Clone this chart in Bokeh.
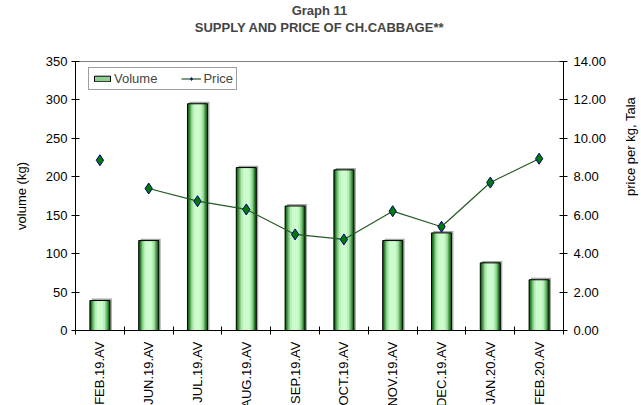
import numpy as np
from bokeh.plotting import figure
from bokeh.models import (LinearAxis, Range1d, FixedTicker, Legend, LegendItem,
                          Title, NumeralTickFormatter, ColumnDataSource)
from bokeh.transform import dodge
from bokeh.embed import file_html
from bokeh.resources import INLINE

months = ["FEB.19.AV", "JUN.19.AV", "JUL.19.AV", "AUG.19.AV", "SEP.19.AV",
          "OCT.19.AV", "NOV.19.AV", "DEC.19.AV", "JAN.20.AV", "FEB.20.AV"]
volume = [39, 117, 295, 212, 162, 209, 117, 127, 88, 66]
price = [8.86, 7.39, 6.73, 6.30, 5.00, 4.74, 6.21, 5.40, 7.70, 8.94]

FONT = "Liberation Sans"
FS = "13px"
xpos = np.arange(len(months)) + 0.5
src = ColumnDataSource(dict(x=xpos, v=volume, p=price, m=months))

p = figure(frame_width=488, frame_height=269, output_backend="svg",
           toolbar_location=None,
           x_range=Range1d(0, len(months)), y_range=Range1d(0, 350),
           min_border_left=75, min_border_right=55, min_border_top=0,
           min_border_bottom=20)
p.extra_y_ranges = {"price": Range1d(0, 14)}
p.xgrid.visible = False
p.ygrid.visible = False
p.outline_line_color = "#808080"
p.background_fill_color = "white"
p.border_fill_color = "white"

# bar shadow
p.vbar(x=dodge("x", 0.04), top=dodge("v", 2.5), width=0.41, bottom=0, source=src,
       fill_color="#a6a6a6", line_color=None)
# gradient bars
layers = [(0.41, "#0a570a"), (0.37, "#2a7f2a"), (0.32, "#5aa85a"),
          (0.27, "#90d090"), (0.21, "#b8eeb8"), (0.13, "#ccfccc")]
bar_rs = []
for w, c in layers:
    r = p.vbar(x="x", top="v", width=w, bottom=0, source=src, fill_color=c,
               line_color=None)
    bar_rs.append(r)
outline_r = p.vbar(x="x", top="v", width=0.41, bottom=0, source=src,
                   fill_color=None, line_color="black", line_width=1)

# price line (not joined to first point) and markers
line_src = ColumnDataSource(dict(x=xpos[1:], p=price[1:]))
ln = p.line(x="x", y="p", source=line_src, y_range_name="price",
            line_color="#235a23", line_width=1.2)
mk = p.scatter(x="x", y="p", source=src, y_range_name="price", marker="diamond",
               size=11, fill_color="#007a00", line_color="#000080", line_width=1)

# axes
ax = p.xaxis[0]
ax.ticker = FixedTicker(ticks=list(xpos), minor_ticks=list(range(len(months) + 1)))
ax.major_label_overrides = {float(x): m for x, m in zip(xpos, months)}
ax.major_label_orientation = np.pi / 2
ax.major_tick_in = 0
ax.major_tick_out = 0
ax.minor_tick_in = 4
ax.minor_tick_out = 4
ax.minor_tick_line_color = "black"
ax.axis_line_color = "black"
ax.major_label_standoff = 7

ay = p.yaxis[0]
ay.ticker = FixedTicker(ticks=list(range(0, 351, 50)))
ay.axis_label = "volume (kg)"
ay.major_tick_in = 4
ay.major_tick_out = 4
ay.minor_tick_line_color = None
ay.axis_line_color = "black"
ay.major_label_standoff = 4
ay.axis_label_standoff = 14

ar = LinearAxis(y_range_name="price", axis_label="price per kg, Tala",
                ticker=FixedTicker(ticks=list(range(0, 15, 2))),
                formatter=NumeralTickFormatter(format="0.00"))
ar.major_tick_in = 4
ar.major_tick_out = 4
ar.minor_tick_line_color = None
ar.axis_line_color = "black"
ar.major_label_standoff = 6
ar.axis_label_standoff = 21
ar.axis_label_orientation = np.pi / 2
p.add_layout(ar, "right")

for a in [ax, ay, ar]:
    a.major_label_text_font = FONT
    a.major_label_text_font_size = FS
    a.major_label_text_color = "black"
    a.axis_label_text_font = FONT
    a.axis_label_text_font_size = FS
    a.axis_label_text_font_style = "normal"
    a.axis_label_text_color = "black"
    a.major_tick_line_color = "black"

# titles (first added sits nearest the plot frame)
p.title.text = "Graph 11"
p.title.align = "center"
p.title.offset = 8
p.title.text_font = FONT
p.title.text_font_size = FS
p.title.text_font_style = "bold"
p.title.standoff = 0
p.add_layout(Title(text=" ", text_font=FONT, text_font_size=FS,
                   standoff=10), "above")
p.add_layout(Title(text="SUPPLY AND PRICE OF CH.CABBAGE**", align="center",
                   offset=8, text_font=FONT, text_font_size=FS,
                   text_font_style="bold", standoff=0), "above")

legend = Legend(items=[LegendItem(label="Volume", renderers=[bar_rs[3], outline_r]),
                       LegendItem(label="Price", renderers=[ln, mk])],
                orientation="horizontal", location=(13, 240))
legend.label_text_font = FONT
legend.label_text_font_size = FS
legend.border_line_color = "#404040"
legend.border_line_width = 1
legend.padding = 3
legend.spacing = 24
legend.glyph_width = 20
legend.glyph_height = 7
legend.label_standoff = 2
legend.label_height = 15
legend.margin = 0
p.add_layout(legend, "center")

open("out.html", "w").write(file_html(p, INLINE))
